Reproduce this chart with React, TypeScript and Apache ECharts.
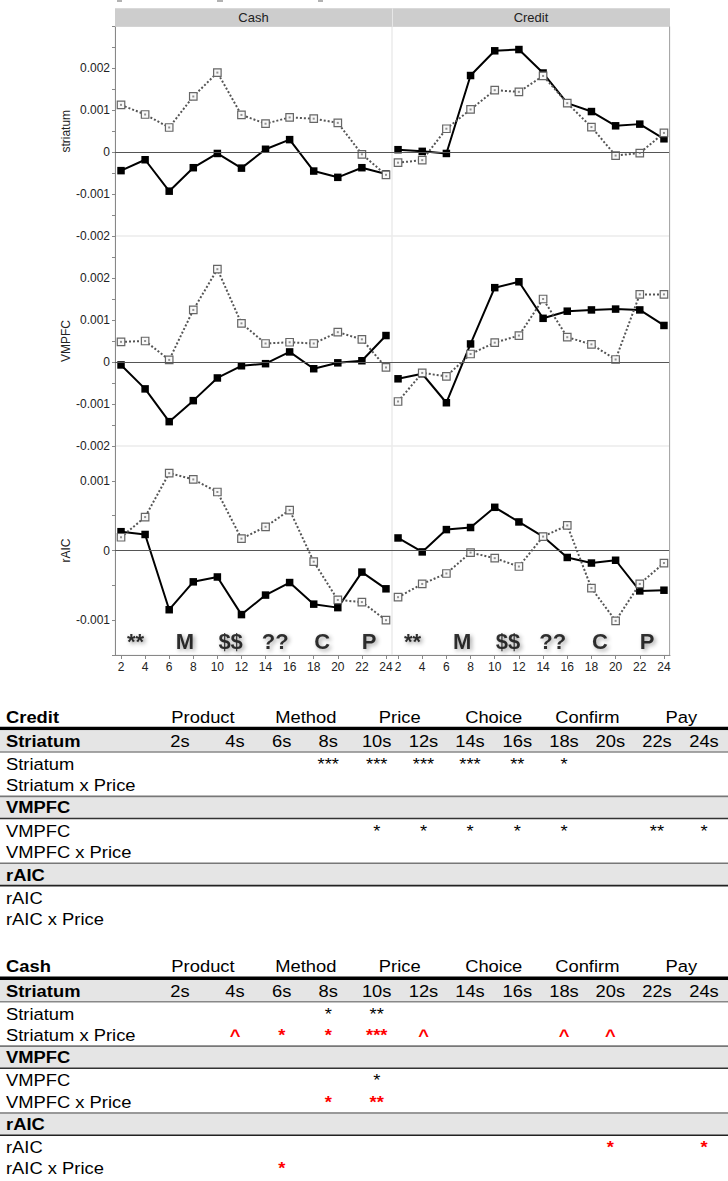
import React, { useEffect, useRef } from "react";
import * as echarts from "echarts";

// ---------- chart data ----------
const timePoints = [2, 4, 6, 8, 10, 12, 14, 16, 18, 20, 22, 24];
const panelNames = ["Cash", "Credit"];
const regionNames = ["striatum", "VMPFC", "rAIC"];

const cashStriatumSolid = [-0.00044, -0.00018, -0.00093, -0.00037, -0.00003, -0.00038, 0.00007, 0.0003, -0.00045, -0.0006, -0.00037, -0.00052];
const cashStriatumDotted = [0.00113, 0.0009, 0.00059, 0.00133, 0.0019, 0.00089, 0.00068, 0.00083, 0.0008, 0.0007, -0.00005, -0.00054];
const creditStriatumSolid = [0.00006, 0.00002, -0.00003, 0.00183, 0.00242, 0.00245, 0.00189, 0.00117, 0.00097, 0.00063, 0.00067, 0.00032];
const creditStriatumDotted = [-0.00025, -0.00019, 0.00056, 0.00102, 0.00148, 0.00144, 0.00182, 0.00117, 0.0006, -0.00008, -0.00002, 0.00046];

const cashVmpfcSolid = [-0.00007, -0.00064, -0.00142, -0.00092, -0.00038, -0.00009, -0.00004, 0.00024, -0.00016, -0.00002, 0.00003, 0.00063];
const cashVmpfcDotted = [0.00048, 0.0005, 0.00005, 0.00124, 0.00221, 0.00092, 0.00044, 0.00047, 0.00044, 0.00071, 0.00054, -0.00013];
const creditVmpfcSolid = [-0.0004, -0.00028, -0.00097, 0.00043, 0.00177, 0.00191, 0.00104, 0.00121, 0.00124, 0.00126, 0.00124, 0.00087];
const creditVmpfcDotted = [-0.00094, -0.00026, -0.00034, 0.00019, 0.00046, 0.00063, 0.0015, 0.00059, 0.00042, 0.00006, 0.00161, 0.00161];

const cashRaicSolid = [0.00027, 0.00023, -0.00085, -0.00045, -0.00038, -0.00092, -0.00064, -0.00046, -0.00077, -0.00082, -0.00031, -0.00055];
const cashRaicDotted = [0.00019, 0.00048, 0.00111, 0.00102, 0.00084, 0.00017, 0.00034, 0.00058, -0.00016, -0.00071, -0.00074, -0.001];
const creditRaicSolid = [0.00018, -0.00002, 0.0003, 0.00033, 0.00062, 0.00041, 0.0002, -0.0001, -0.00018, -0.00014, -0.00058, -0.00057];
const creditRaicDotted = [-0.00067, -0.00048, -0.00033, -0.00003, -0.00011, -0.00023, 0.0002, 0.00036, -0.00054, -0.00101, -0.00048, -0.00018];

const phaseLabels = ["**", "M", "$$", "??", "C", "P"];
const phaseX = [3.2, 7.3, 11.1, 14.8, 18.7, 22.6];
const phaseY = -0.0013;

const rowMin = [-0.002, -0.002, -0.0015];
const rowMax = [0.003, 0.003, 0.0015];

// ---------- table data ----------
const tableGroups = ["Product", "Method", "Price", "Choice", "Confirm", "Pay"];
const tableCols = ["2s", "4s", "6s", "8s", "10s", "12s", "14s", "16s", "18s", "20s", "22s", "24s"];
const tableRegions = ["Striatum", "VMPFC", "rAIC"];
const tableRowLabels = [
  ["Striatum", "Striatum x Price"],
  ["VMPFC", "VMPFC x Price"],
  ["rAIC", "rAIC x Price"],
];

const creditStriatumSig = ["", "", "", "***", "***", "***", "***", "**", "*", "", "", ""];
const creditStriatumPriceSig = ["", "", "", "", "", "", "", "", "", "", "", ""];
const creditVmpfcSig = ["", "", "", "", "*", "*", "*", "*", "*", "", "**", "*"];
const creditVmpfcPriceSig = ["", "", "", "", "", "", "", "", "", "", "", ""];
const creditRaicSig = ["", "", "", "", "", "", "", "", "", "", "", ""];
const creditRaicPriceSig = ["", "", "", "", "", "", "", "", "", "", "", ""];

const cashStriatumSig = ["", "", "", "*", "**", "", "", "", "", "", "", ""];
const cashStriatumPriceSig = ["", "^", "*", "*", "***", "^", "", "", "^", "^", "", ""];
const cashVmpfcSig = ["", "", "", "", "*", "", "", "", "", "", "", ""];
const cashVmpfcPriceSig = ["", "", "", "*", "**", "", "", "", "", "", "", ""];
const cashRaicSig = ["", "", "", "", "", "", "", "", "", "*", "", "*"];
const cashRaicPriceSig = ["", "", "*", "", "", "", "", "", "", "", "", ""];

const FONT = '"Liberation Sans", Arial, Helvetica, sans-serif';

// ---------- layout ----------
const colLeft = [115, 392];
const colWidth = [277, 278];
const rowTop = [26.5, 236, 446];
const rowHeight = [209.5, 210, 209];

const tableColX = [180, 235, 281.7, 328.3, 376.7, 423.5, 470, 517.3, 564, 610.3, 657, 704];
const tableGroupX = [203, 305.8, 399.7, 493.7, 587.3, 681.3];

function tText(x: number, y: number, s: string, opts: any = {}) {
  const align = opts.align || "left";
  return {
    type: "text",
    x,
    y,
    scaleX: 1.08,
    silent: true,
    z: 10,
    style: {
      text: s,
      fill: opts.color || "#000",
      fontSize: opts.fontSize || 17,
      fontWeight: opts.bold ? "bold" : "normal",
      fontFamily: FONT,
      align,
      textAlign: align,
      verticalAlign: "middle",
      textVerticalAlign: "middle",
    },
  };
}

function hRect(y: number, h: number, fill: string) {
  return { type: "rect", silent: true, z: 9, shape: { x: 0, y, width: 728, height: h }, style: { fill } };
}

function buildTable(base: number, title: string, sigs: string[][], sigColors: string[]) {
  const els: any[] = [];
  const band = "#e5e5e5";
  els.push(tText(6, base + 16.8, title, { bold: true }));
  tableGroups.forEach((g, i) => els.push(tText(tableGroupX[i], base + 16.8, g, { align: "center" })));
  els.push(hRect(base + 26.8, 3.4, "#000"));
  const bandTops = [30.2, 97.2, 164.1];
  const bandBottoms = [52, 118.5, 185.6];
  const topLineColors = ["#000", "#777", "#777"];
  const bottomLineColors = ["#888", "#333", "#222"];
  const bandTextY = [41.3, 107.4, 175];
  const rowY = [[64.3, 85.7], [131, 152.3], [198, 219]];
  for (let r = 0; r < 3; r++) {
    els.push(hRect(base + bandTops[r], bandBottoms[r] - bandTops[r], band));
    if (r > 0) els.push(hRect(base + bandTops[r] - 1.6, 1.6, topLineColors[r]));
    els.push(hRect(base + bandBottoms[r] - 0.8, 1.6, bottomLineColors[r]));
    els.push(tText(6, base + bandTextY[r], tableRegions[r], { bold: true }));
    if (r === 0) {
      tableCols.forEach((c, i) => els.push(tText(tableColX[i], base + bandTextY[r], c, { align: "center" })));
    }
    for (let k = 0; k < 2; k++) {
      const y = base + rowY[r][k];
      els.push(tText(6, y, tableRowLabels[r][k]));
      const sig = sigs[r * 2 + k];
      const col = sigColors[r * 2 + k];
      sig.forEach((s, i) => {
        if (s) els.push(tText(tableColX[i], y, s, { align: "center", color: col, bold: col !== "#000" }));
      });
    }
  }
  return els;
}

export default function App() {
  const ref = useRef<HTMLDivElement>(null);

  useEffect(() => {
    if (!ref.current) return;
    const chart = echarts.init(ref.current, undefined, { renderer: "svg" });

    const solid = [
      [cashStriatumSolid, creditStriatumSolid],
      [cashVmpfcSolid, creditVmpfcSolid],
      [cashRaicSolid, creditRaicSolid],
    ];
    const dotted = [
      [cashStriatumDotted, creditStriatumDotted],
      [cashVmpfcDotted, creditVmpfcDotted],
      [cashRaicDotted, creditRaicDotted],
    ];

    const grids: any[] = [];
    const xAxes: any[] = [];
    const yAxes: any[] = [];
    const series: any[] = [];

    for (let r = 0; r < 3; r++) {
      for (let c = 0; c < 2; c++) {
        const idx = grids.length;
        grids.push({
          left: colLeft[c],
          top: rowTop[r],
          width: colWidth[c],
          height: rowHeight[r],
          show: true,
          borderColor: "#ebebeb",
          borderWidth: 1,
          backgroundColor: "transparent",
        });
        const bottom = r === 2;
        xAxes.push({
          type: "value",
          gridIndex: idx,
          min: 1.5,
          max: 24.5,
          axisLine: { show: bottom, onZero: false, lineStyle: { color: "#888", width: 1 } },
          axisTick: { show: bottom, customValues: timePoints, length: 4, lineStyle: { color: "#888" } },
          axisLabel: {
            show: bottom,
            customValues: timePoints,
            color: "#222",
            fontSize: 12,
            fontFamily: FONT,
            margin: 6,
          },
          splitLine: { show: false },
        });
        const maxV = rowMax[r];
        yAxes.push({
          type: "value",
          gridIndex: idx,
          min: rowMin[r],
          max: rowMax[r],
          interval: 0.0005,
          show: c === 0,
          name: c === 0 ? regionNames[r] : "",
          nameLocation: "middle",
          nameRotate: 90,
          nameGap: 43,
          nameTextStyle: { color: "#222", fontSize: 12, fontFamily: FONT },
          axisLine: { show: true, lineStyle: { color: "#888", width: 1 } },
          axisTick: { show: true, length: 3, lineStyle: { color: "#888" } },
          axisLabel: {
            color: "#222",
            fontSize: 12,
            fontFamily: FONT,
            margin: 5,
            showMinLabel: true,
            showMaxLabel: true,
            formatter: (v: number) => {
              const k = Math.round(v * 2000);
              if (k % 2 !== 0) return "";
              const val = k / 2000;
              if (val >= maxV - 1e-9) return "";
              return val === 0 ? "0" : String(val);
            },
          },
          splitLine: { show: false },
        });

        series.push({
          type: "line",
          xAxisIndex: idx,
          yAxisIndex: idx,
          data: timePoints.map((t, k) => [t, solid[r][c][k]]),
          symbol: "rect",
          symbolSize: 7.5,
          itemStyle: { color: "#000" },
          lineStyle: { color: "#000", width: 2 },
          z: 3,
          silent: true,
          markLine: {
            silent: true,
            symbol: ["none", "none"],
            label: { show: false },
            lineStyle: { color: "#555", width: 1, type: "solid" },
            data: [{ yAxis: 0 }],
          },
        });
        series.push({
          type: "line",
          xAxisIndex: idx,
          yAxisIndex: idx,
          data: timePoints.map((t, k) => [t, dotted[r][c][k]]),
          symbol: "rect",
          symbolSize: 7.5,
          itemStyle: { color: "#f8f8f8", borderColor: "#666", borderWidth: 1.2 },
          lineStyle: { color: "#555", width: 2, type: "dotted" },
          z: 4,
          silent: true,
        });
        series.push({
          type: "scatter",
          xAxisIndex: idx,
          yAxisIndex: idx,
          data: timePoints.map((t, k) => [t, dotted[r][c][k]]),
          symbol: "rect",
          symbolSize: 2,
          itemStyle: { color: "#777" },
          z: 5,
          silent: true,
        });
        if (r === 2) {
          series.push({
            type: "scatter",
            xAxisIndex: idx,
            yAxisIndex: idx,
            data: phaseLabels.map((p, k) => [phaseX[k], phaseY, p]),
            symbol: "rect",
            symbolSize: 1,
            itemStyle: { color: "rgba(0,0,0,0)" },
            z: 6,
            silent: true,
            label: {
              show: true,
              position: "inside",
              formatter: (p: any) => p.data[2],
              color: "#000",
              fontSize: 22,
              fontWeight: "bold",
              fontFamily: FONT,
              textShadowColor: "rgba(0,0,0,0.45)",
              textShadowBlur: 4,
              textShadowOffsetX: 2,
              textShadowOffsetY: 2,
            },
          });
        }
      }
    }

    const graphic: any[] = [];
    [[117, 122], [217, 223], [318, 323]].forEach(([a, b]) =>
      graphic.push({ type: "line", silent: true, shape: { x1: a, y1: 1, x2: b, y2: 1 }, style: { stroke: "#999", lineWidth: 1.5 } })
    );
    graphic.push({ type: "rect", silent: true, z: 8, shape: { x: 115, y: 8.3, width: 555, height: 18.4 }, style: { fill: "#cdcdcd" } });
    graphic.push({ type: "line", silent: true, z: 9, shape: { x1: 392.5, y1: 8.3, x2: 392.5, y2: 26.7 }, style: { stroke: "#e6e6e6", lineWidth: 1 } });
    panelNames.forEach((n, c) =>
      graphic.push({
        type: "text",
        silent: true,
        z: 10,
        x: colLeft[c] + colWidth[c] / 2,
        y: 17.5,
        style: { text: n, fill: "#222", fontSize: 13, fontFamily: FONT, align: "center", textAlign: "center", verticalAlign: "middle", textVerticalAlign: "middle" },
      })
    );
    graphic.push({ type: "line", silent: true, z: 9, shape: { x1: 669.5, y1: 26.5, x2: 669.5, y2: 655 }, style: { stroke: "#a8a8a8", lineWidth: 1 } });

    graphic.push(
      ...buildTable(
        700,
        "Credit",
        [creditStriatumSig, creditStriatumPriceSig, creditVmpfcSig, creditVmpfcPriceSig, creditRaicSig, creditRaicPriceSig],
        ["#000", "#000", "#000", "#000", "#000", "#000"]
      )
    );
    graphic.push(
      ...buildTable(
        949.7,
        "Cash",
        [cashStriatumSig, cashStriatumPriceSig, cashVmpfcSig, cashVmpfcPriceSig, cashRaicSig, cashRaicPriceSig],
        ["#000", "#ff0000", "#000", "#ff0000", "#ff0000", "#ff0000"]
      )
    );

    chart.setOption({
      animation: false,
      textStyle: { fontFamily: FONT },
      grid: grids,
      xAxis: xAxes,
      yAxis: yAxes,
      series,
      graphic,
    });

    return () => chart.dispose();
  }, []);

  return (
    <div
      ref={ref}
      style={{ position: "absolute", left: 0, top: 0, width: 728, height: 1181, background: "#fff" }}
    />
  );
}
